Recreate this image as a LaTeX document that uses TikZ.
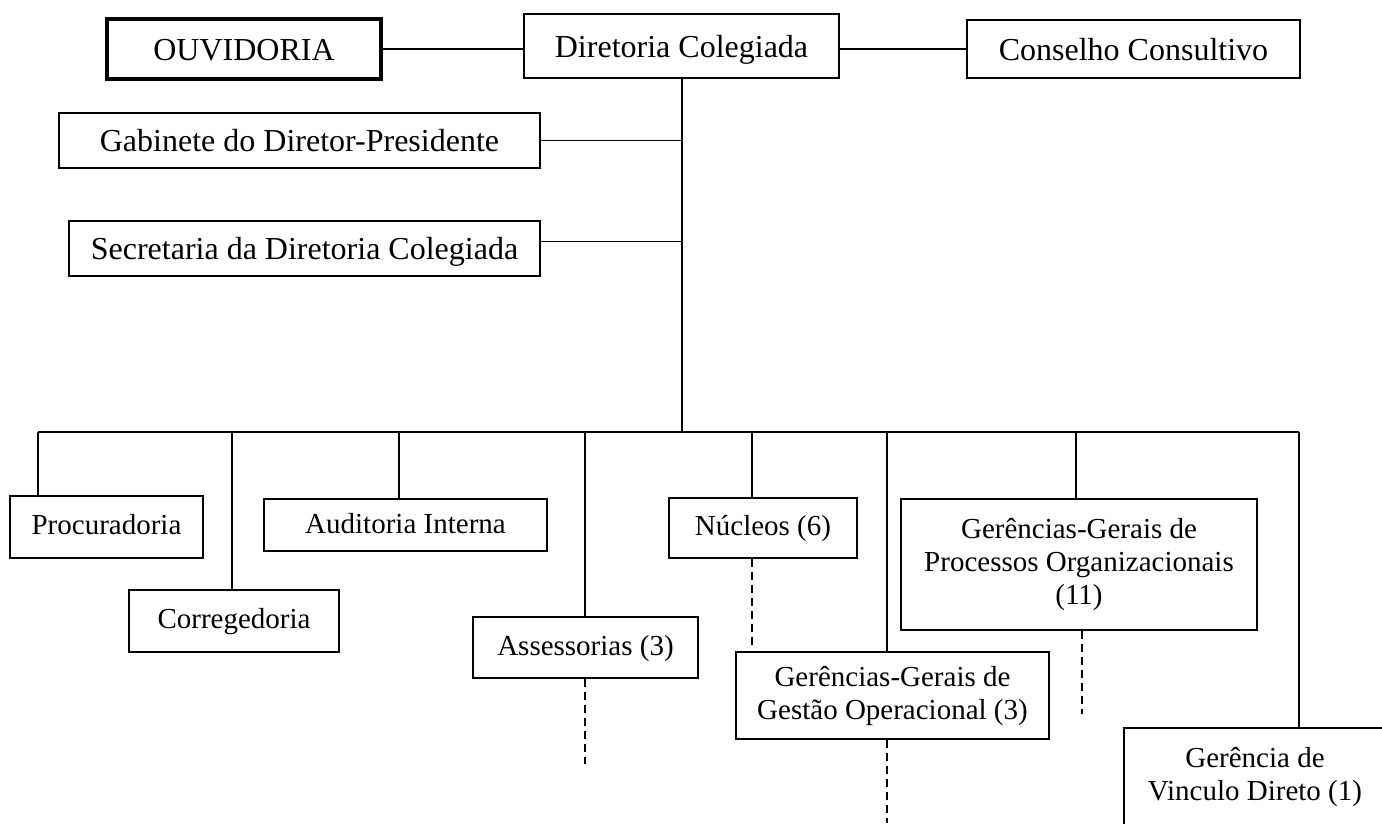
\documentclass[tikz,border=0pt]{standalone}
\usepackage{fontspec}
\setmainfont{Liberation Serif}
\begin{document}
\begin{tikzpicture}[x=1pt,y=-1pt,
  box/.style={draw, line width=1.2pt, inner sep=0pt, fill=white},
  topfont/.style={font=\fontsize{32}{37}\selectfont, text height=25pt, text depth=3pt},
  lowfont/.style={font=\fontsize{29}{33}\selectfont, text height=20pt, text depth=5pt},
  lowlines/.style={font=\fontsize{29}{33}\selectfont, align=center},
  link/.style={line width=1.6pt},
  sub/.style={line width=1.4pt, dash pattern=on 8pt off 5pt}]
\useasboundingbox (0,0) rectangle (1382,823);

% top level
\node[box, topfont, line width=3.2pt, minimum width=274pt, minimum height=60pt] (ouv) at (244,49) {OUVIDORIA};
\node[box, topfont, minimum width=315pt, minimum height=64pt] (dir) at (681.5,46) {Diretoria Colegiada};
\node[box, topfont, minimum width=333pt, minimum height=58pt] (cons) at (1133.5,49) {Conselho Consultivo};
\node[box, topfont, minimum width=481pt, minimum height=55pt] (gab) at (299.5,140.5) {Gabinete do Diretor-Presidente};
\node[box, topfont, minimum width=471pt, minimum height=55pt] (sec) at (304.5,248.5) {Secretaria da Diretoria Colegiada};

% lower level
\node[box, lowfont, minimum width=193pt, minimum height=62pt] (proc) at (106.5,527) {Procuradoria};
\node[box, lowfont, minimum width=210pt, minimum height=62pt] (corr) at (234,621) {Corregedoria};
\node[box, lowfont, text depth=3pt, minimum width=283pt, minimum height=52pt] (aud) at (405.5,525) {Auditoria Interna};
\node[box, lowfont, minimum width=225pt, minimum height=61pt] (ass) at (585.5,647.5) {Assessorias (3)};
\node[box, lowfont, minimum width=188pt, minimum height=60pt] (nuc) at (763,528) {Núcleos (6)};
\node[box, lowlines, minimum width=313pt, minimum height=87pt] (gop) at (892.5,695.5) {Gerências-Gerais de\\Gestão Operacional (3)};
\node[box, lowlines, minimum width=356pt, minimum height=131pt] (gpo) at (1079,564.5) {Gerências-Gerais de\\Processos Organizacionais\\(11)};
\node[box, lowlines, minimum width=262pt, minimum height=97pt] (gvd) at (1255,776.5) {Gerência de\\Vinculo Direto (1)};

% trunk and bus
\coordinate (hub) at (682,432);
\coordinate (busL) at (38,432);
\coordinate (busR) at (1299,432);
\coordinate (b1) at (38,432);
\coordinate (b2) at (232,432);
\coordinate (b3) at (399,432);
\coordinate (b4) at (585,432);
\coordinate (b5) at (752,432);
\coordinate (b6) at (887,432);
\coordinate (b7) at (1076,432);
\coordinate (b8) at (1299,432);

\draw[link] (ouv.east) -- (ouv.east -| dir.west);
\draw[link] (cons.west -| dir.east) -- (cons.west);
\draw[link] (dir.south -| hub) -- (hub);
\draw[link] (gab.east) -- (gab.east -| hub);
\draw[link] ([yshift=7pt]sec.east) -- ([yshift=7pt]sec.east -| hub);
\draw[link] (busL) -- (busR);

\draw[link] (b1) -- (b1 |- proc.north);
\draw[link] (b2) -- (b2 |- corr.north);
\draw[link] (b3) -- (b3 |- aud.north);
\draw[link] (b4) -- (b4 |- ass.north);
\draw[link] (b5) -- (b5 |- nuc.north);
\draw[link] (b6) -- (b6 |- gop.north);
\draw[link] (b7) -- (b7 |- gpo.north);
\draw[link] (b8) -- (b8 |- gvd.north);

% dashed continuations
\coordinate (d1) at (585,764);
\coordinate (d2) at (752,645);
\coordinate (d3) at (887,823);
\coordinate (d4) at (1082,714);
\draw[sub] (ass.south -| d1) -- (d1);
\draw[sub] (nuc.south -| d2) -- (d2);
\draw[sub] (gop.south -| d3) -- (d3);
\draw[sub] (gpo.south -| d4) -- (d4);
\end{tikzpicture}
\end{document}
